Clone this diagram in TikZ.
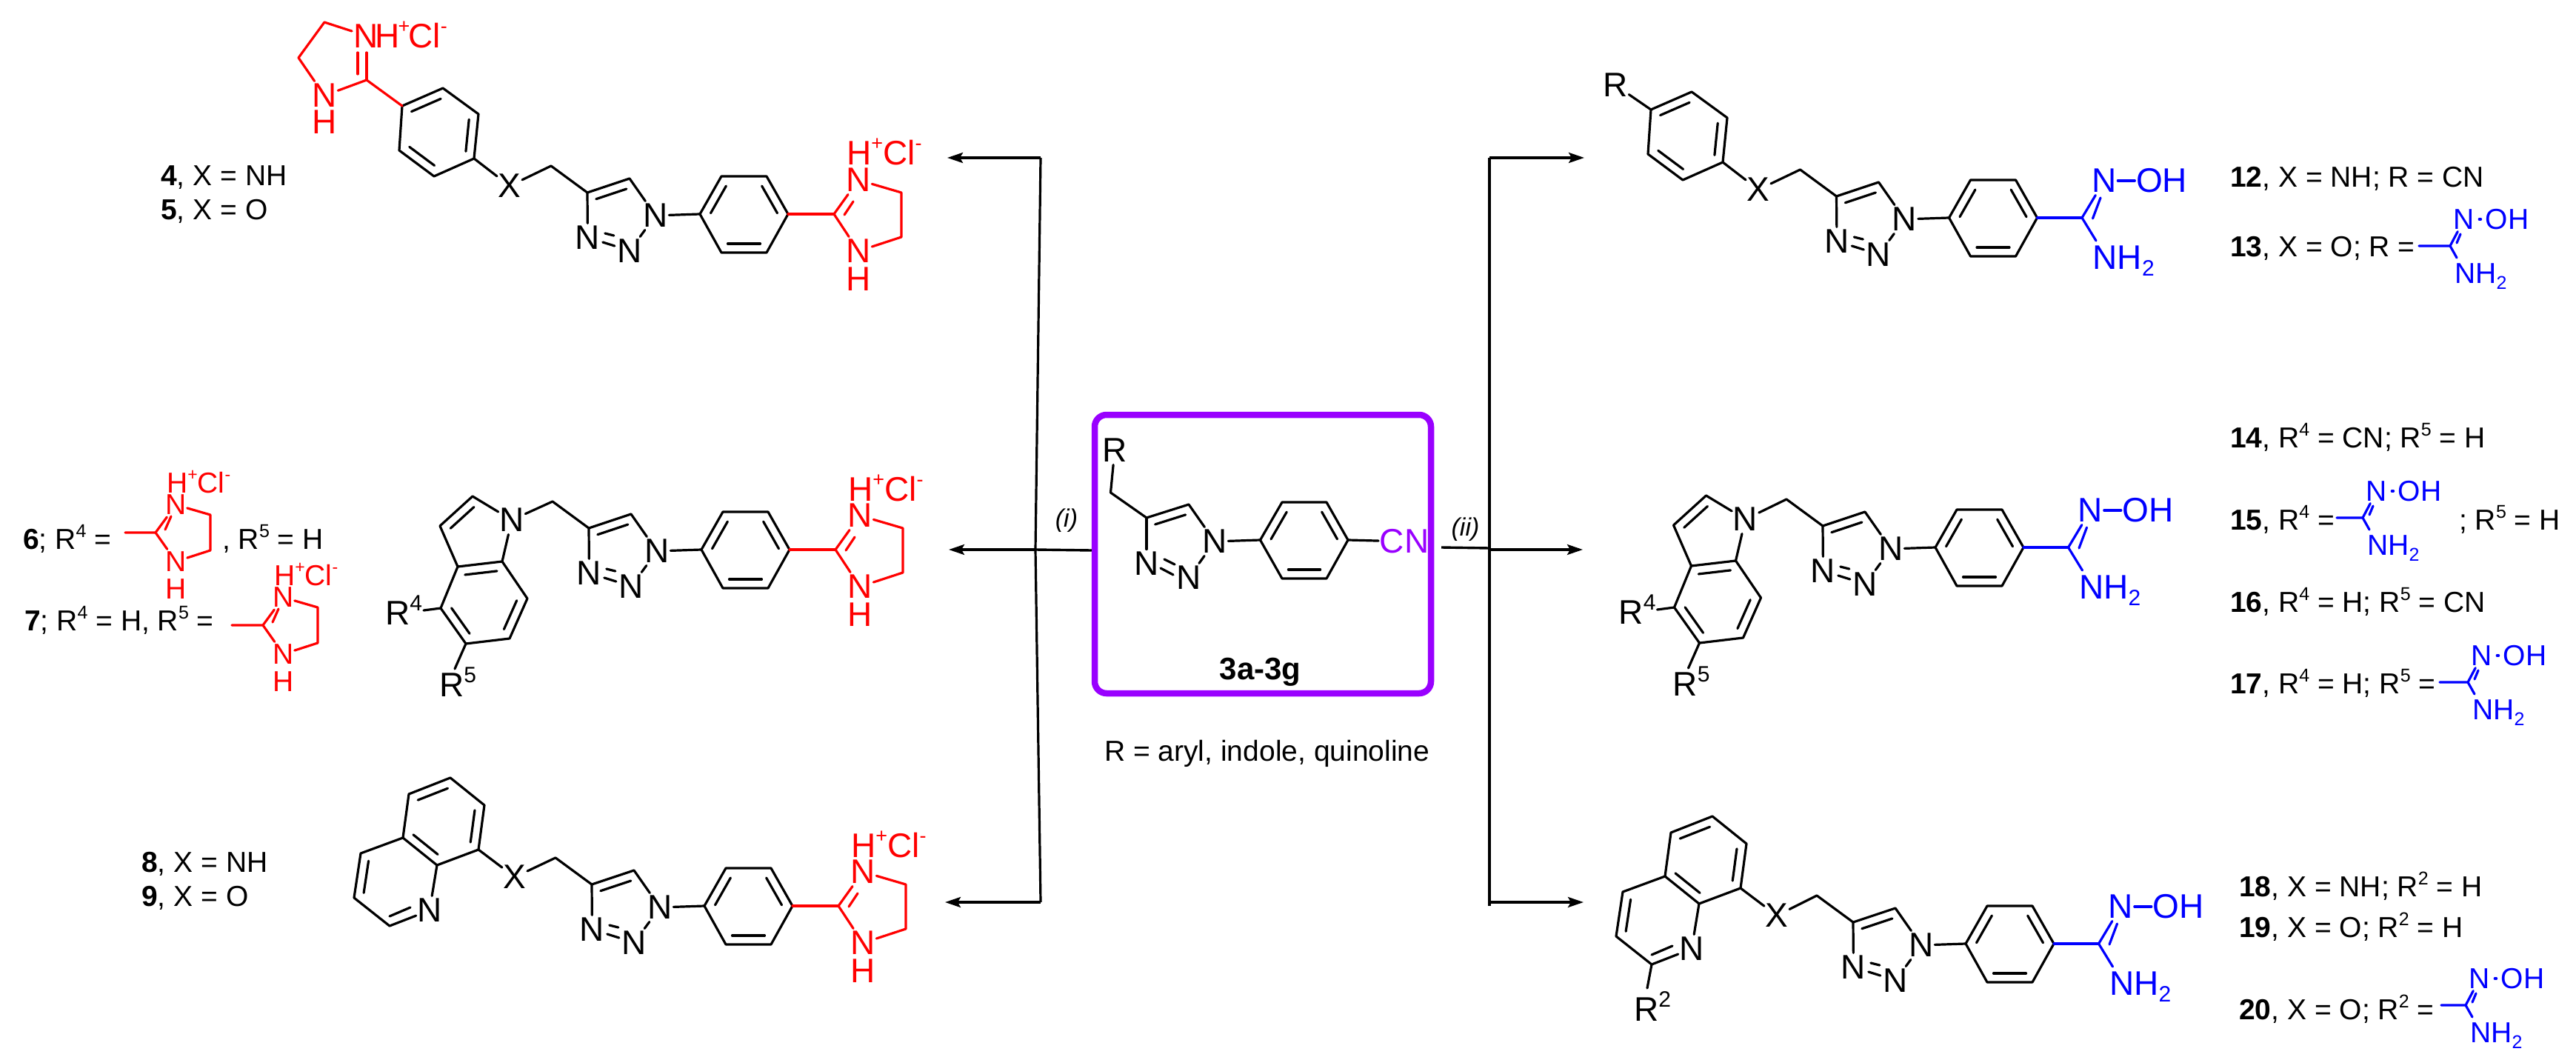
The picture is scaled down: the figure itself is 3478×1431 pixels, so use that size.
\documentclass[tikz,border=0pt]{standalone}
\usepackage{fontspec}
\setmainfont{Liberation Sans}
\usetikzlibrary{calc,arrows.meta}
\definecolor{rd}{HTML}{FF0000}
\definecolor{bl}{HTML}{0000FF}
\definecolor{pu}{HTML}{9900FF}
\newcommand{\fbig}{\fontsize{46}{46}\selectfont}
\newcommand{\fsm}{\fontsize{39}{39}\selectfont}
\newcommand{\up}[3]{\raisebox{#1pt}{\fontsize{#2}{#2}\selectfont #3}}
\newcommand{\Slab}[1]{\up{16}{25}{#1}}
\newcommand{\Rsup}[1]{R\up{19}{30}{#1}}
\newcommand{\HClBig}{H\up{20}{27}{+}Cl\up{20}{27}{-}}
\newcommand{\HClSm}{H\up{17}{23}{+}Cl\up{17}{23}{-}}
\tikzset{
  bond/.style={line width=3.2pt,line cap=round,line join=round},
  atom/.style={font=\fbig,inner xsep=1.5pt,inner ysep=3.5pt},
  atomS/.style={font=\fsm,inner xsep=1pt,inner ysep=3pt},
  lbl/.style={font=\fsm,anchor=base west,inner sep=0pt},
  free/.style={font=\fbig,anchor=base west,inner sep=0pt},
  flow/.style={line width=3.4pt,-{Stealth[length=21pt,width=14pt,inset=4pt]}},
  plain/.style={line width=3.2pt},
}
% inner line of a double bond; #3 = signed offset
\newcommand{\dbl}[4][]{\draw[bond,#1] ($(#2)!.14!(#3)!#4pt!90:(#3)$) -- ($(#3)!.14!(#2)!#4pt!-90:(#2)$);}
% triazole + phenylene: #1 prefix, shift #2,#3
\newcommand{\triaz}[3]{%
\begin{scope}[shift={(#2,#3)}]
 \coordinate (#1ch2) at (744,224);
 \coordinate (#1c4) at (793,260);
 \coordinate (#1c5) at (850,241);
 \node[atom] (#1n1) at (885,291) {N};
 \node[atom] (#1n2) at (850,339) {N};
 \node[atom] (#1n3) at (793.5,321) {N};
 \coordinate (#1a) at (945,289);
 \coordinate (#1b) at (974,238);
 \coordinate (#1c) at (1035,238);
 \coordinate (#1d) at (1064,289);
 \coordinate (#1e) at (1035,341);
 \coordinate (#1f) at (974,341);
 \draw[bond] (#1ch2) -- (#1c4) -- (#1c5) -- (#1n1);
 \draw[bond] (#1c4) -- (#1n3);
 \draw[bond] (#1n1) -- (#1n2);
 \dbl{#1c4}{#1c5}{-12}
 \draw[bond] (#1n3.east) ++(5,-6) -- ++(12,3);
 \draw[bond] (#1n3.east) ++(2,6) -- ++(16,5);
 \draw[bond] (#1n1) -- (#1a);
 \draw[bond] (#1a) -- (#1b) -- (#1c) -- (#1d) -- (#1e) -- (#1f) -- cycle;
 \dbl{#1a}{#1b}{-12}
 \dbl{#1c}{#1d}{-12}
 \dbl{#1e}{#1f}{-12}
\end{scope}}
% red imidazolinium on the phenylene
\newcommand{\imid}[3]{%
\begin{scope}[shift={(#2,#3)},rd]
 \coordinate (#1ic) at (1126,289);
 \node[atom] (#1iu) at (1159,243) {N};
 \node[atom] (#1il) at (1159,339) {N};
 \node[atom] (#1ih) at (1159,377) {H};
 \node[free,text=rd] (#1ihc) at (1143,223) {\HClBig};
 \coordinate (#1i1) at (1217,260);
 \coordinate (#1i2) at (1217,320);
 \draw[bond,rd] (#1d) -- (#1ic);
 \draw[bond,rd] (#1ic) -- (#1iu);
 \draw[bond,rd] (#1ic) -- (#1il);
 \draw[bond,rd] (#1iu) -- (#1i1) -- (#1i2) -- (#1il);
 \draw[bond,rd] (1140,290) -- (1152,272);
\end{scope}}
% blue amidoxime on the phenylene
\newcommand{\amid}[3]{%
\begin{scope}[shift={(#2,#3)},bl]
 \coordinate (#1ac) at (1124.5,289);
 \node[atom] (#1au) at (1154.5,239) {N};
 \node[atom] (#1aoh) at (1232,239) {OH};
 \node[free,text=bl] (#1anh) at (1139,358) {NH\up{-9}{30}{2}};
 \coordinate (#1ae) at (1143.5,320);
 \draw[bond,bl] (#1d) -- (#1ac);
 \draw[bond,bl] (#1ac) -- (#1au);
 \draw[bond,bl] (#1ac) -- (#1ae);
 \draw[bond,bl] (#1au) -- (#1aoh);
 \draw[bond,bl] (1139,290) -- (1149.5,262);
\end{scope}}
% small amidoxime: #1 prefix, centre carbon #2,#3, left stub length #4
\newcommand{\amidS}[4]{%
\begin{scope}[shift={(#2,#3)},bl]
 \coordinate (#1c) at (0,0);
 \coordinate (#1s) at (-#4,0);
 \node[atomS] (#1n) at (19,-36) {N};
 \node[atomS] (#1o) at (77,-36) {OH};
 \node[lbl,text=bl] (#1h) at (6,50) {NH\up{-8}{25}{2}};
 \coordinate (#1e) at (9,16);
 \draw[bond,bl] (#1s) -- (#1c) -- (#1n);
 \draw[bond,bl] (#1c) -- (#1e);
 \draw[bond,bl,shorten >=5pt,shorten <=5pt] (#1n) -- (#1o);
 \draw[bond,bl] (9,-4) -- (14,-16);
\end{scope}}
% small red imidazolinium: #1 prefix, carbon #2,#3, stub length #4
\newcommand{\imidS}[4]{%
\begin{scope}[shift={(#2,#3)},rd]
 \coordinate (#1c) at (0,0);
 \coordinate (#1s) at (-#4,0);
 \node[atomS] (#1n) at (27.5,-37.5) {N};
 \node[atomS] (#1m) at (27.5,39) {N};
 \node[atomS] (#1h) at (27.5,76) {H};
 \node[lbl,text=rd] (#1x) at (15,-54) {\HClSm};
 \coordinate (#1p) at (74,-24);
 \coordinate (#1q) at (74,24);
 \draw[bond,rd] (#1s) -- (#1c) -- (#1n);
 \draw[bond,rd] (#1c) -- (#1m);
 \draw[bond,rd] (#1n) -- (#1p) -- (#1q) -- (#1m);
 \draw[bond,rd] (13,-4) -- (21,-22);
\end{scope}}
% para-disubstituted ring with X
\newcommand{\aryl}[3]{%
\begin{scope}[shift={(#2,#3)}]
 \coordinate (#1r1) at (543,143);
 \coordinate (#1r2) at (598,119);
 \coordinate (#1r3) at (646,154);
 \coordinate (#1r4) at (640,214);
 \coordinate (#1r5) at (586,238);
 \coordinate (#1r6) at (539,203);
 \node[atom] (#1x) at (688,251) {X};
 \draw[bond] (#1r1) -- (#1r2) -- (#1r3) -- (#1r4) -- (#1r5) -- (#1r6) -- cycle;
 \dbl{#1r1}{#1r2}{-12}
 \dbl{#1r3}{#1r4}{-12}
 \dbl{#1r5}{#1r6}{-12}
 \draw[bond] (#1r4) -- (#1x);
\end{scope}}
% indole
\newcommand{\indole}[3]{%
\begin{scope}[shift={(#2,#3)}]
 \node[atom] (#1n) at (691,702) {N};
 \coordinate (#1c2) at (638,670);
 \coordinate (#1c3) at (594,710);
 \coordinate (#1c3a) at (618,765);
 \coordinate (#1c7a) at (678,758);
 \coordinate (#1c7) at (712,808);
 \coordinate (#1c6) at (688,862);
 \coordinate (#1c5) at (629,869);
 \coordinate (#1c4) at (595,821);
 \node[free] (#1r4) at (520,843) {\Rsup{4}};
 \node[free] (#1r5) at (593,940) {\Rsup{5}};
 \coordinate (#1e4) at (572,824);
 \coordinate (#1e5) at (614,903);
 \draw[bond] (#1n) -- (#1c2) -- (#1c3) -- (#1c3a) -- (#1c7a) -- (#1n);
 \draw[bond] (#1c7a) -- (#1c7) -- (#1c6) -- (#1c5) -- (#1c4) -- (#1c3a);
 \draw[bond] (#1c4) -- (#1e4);
 \draw[bond] (#1c5) -- (#1e5);
 \dbl{#1c2}{#1c3}{12}
 \dbl{#1c3a}{#1c7a}{-12}
 \dbl{#1c7}{#1c6}{-12}
 \dbl{#1c5}{#1c4}{-12}
\end{scope}}
% quinoline
\newcommand{\quin}[3]{%
\begin{scope}[shift={(#2,#3)}]
 \coordinate (#1c8) at (646,1147);
 \coordinate (#1c7) at (654,1087);
 \coordinate (#1c6) at (608,1050);
 \coordinate (#1c5) at (552,1072);
 \coordinate (#1c4a) at (544,1131);
 \coordinate (#1c8a) at (590,1168);
 \node[atom] (#1n) at (580,1229) {N};
 \coordinate (#1c2) at (526,1250);
 \coordinate (#1c3) at (478,1212);
 \coordinate (#1c4) at (487,1152);
 \node[atom] (#1x) at (695,1184) {X};
 \draw[bond] (#1c8) -- (#1c7) -- (#1c6) -- (#1c5) -- (#1c4a) -- (#1c8a) -- cycle;
 \draw[bond] (#1c4a) -- (#1c4) -- (#1c3) -- (#1c2) -- (#1n) -- (#1c8a);
 \draw[bond] (#1c8) -- (#1x);
 \dbl{#1c8}{#1c7}{12}
 \dbl{#1c6}{#1c5}{12}
 \dbl{#1c4a}{#1c8a}{12}
 \dbl{#1c4}{#1c3}{12}
 \draw[bond] (#1c2) ++(0,-13) -- ++(28,-12);
\end{scope}}
\begin{document}
\begin{tikzpicture}[x=1pt,y=-1pt]
\useasboundingbox (0,0) rectangle (3478,1431);
\fill[white] (0,0) rectangle (3478,1431);

%% ---------- centre ----------
\node[draw=pu,line width=8.5pt,rounded corners=16pt,minimum width=454pt,minimum height=376pt,inner sep=0pt] (box) at (1705,748) {};
\node[atom] (cR) at (1505,608) {R};
\coordinate (cCH) at (1499.5,665);
\coordinate (cC4) at (1548,699);
\coordinate (cC5) at (1605,681);
\node[atom] (cN1) at (1640,731) {N};
\node[atom] (cN2) at (1605,780) {N};
\node[atom] (cN3) at (1548,761) {N};
\coordinate (cA) at (1701.5,729);
\coordinate (cB) at (1731,678);
\coordinate (cC) at (1791,678);
\coordinate (cD) at (1820,729);
\coordinate (cE) at (1791,781);
\coordinate (cF) at (1731,781);
\node[atom,text=pu] (cCN) at (1896,731) {CN};
\draw[bond] (cR) -- (cCH) -- (cC4) -- (cC5) -- (cN1);
\draw[bond] (cC4) -- (cN3);
\draw[bond] (cN1) -- (cN2);
\dbl{cC4}{cC5}{-12}
\draw[bond] (1572,755) -- (1586,762);
\draw[bond] (1567,767) -- (1584,776);
\draw[bond] (cN1) -- (cA);
\draw[bond] (cA) -- (cB) -- (cC) -- (cD) -- (cE) -- (cF) -- cycle;
\dbl{cA}{cB}{-12}
\dbl{cC}{cD}{-12}
\dbl{cE}{cF}{-12}
\draw[bond] (cD) -- (cCN);
\node[font=\fontsize{42}{42}\selectfont\bfseries,anchor=base,inner sep=0pt] (cName) at (1701.5,917) {3a-3g};
\node[lbl] (cNote) at (1491,1027) {R = aryl, indole, quinoline};

%% ---------- arrows ----------
\coordinate (jL) at (1398,742);
\coordinate (tL) at (1405,213);
\coordinate (bL) at (1405,1218);
\coordinate (aL1) at (1279,213);
\coordinate (aL2) at (1281,742);
\coordinate (aL3) at (1276,1218);
\coordinate (jR) at (2011,742);
\coordinate (tR) at (2011,213);
\coordinate (bR) at (2011,1223);
\coordinate (aR1) at (2139,213);
\coordinate (aR2) at (2137,742);
\coordinate (aR3) at (2138,1218);
\draw[plain,line cap=butt] (tL) -- (jL) -- (bL);
\draw[flow] (tL) -- (aL1);
\draw[flow] (bL) -- (aL3);
\draw[line width=3.4pt] (box.west |- 0,743) -- (jL);
\draw[flow] (jL) -- (aL2);
\draw[plain] (tR) -- (bR);
\draw[flow] (tR) -- (aR1);
\draw[flow] (2011,1218) -- (aR3);
\draw[line width=3.4pt] (1946,739) -- (2011,740);
\draw[flow] (jR) -- (aR2);
\node[font=\fontsize{34}{34}\selectfont\itshape,inner sep=0pt] (ri) at (1440,703) {(i)};
\node[font=\fontsize{34}{34}\selectfont\itshape,inner sep=0pt] (rii) at (1978.5,715) {(ii)};

%% ---------- left column ----------
\aryl{la}{0}{0}
\triaz{ta}{0}{0}
\draw[bond] (lax) -- (tach2);
\imid{ta}{0}{0}
\begin{scope}[rd]
\coordinate (ic) at (495,108);
\coordinate (i1) at (438,30);
\coordinate (i2) at (403,78);
\node[free,text=rd] (iN) at (477,65) {N\hspace{-4pt}H\hspace{-2pt}\up{20}{27}{+}\hspace{-2pt}Cl\up{20}{27}{-}};
\node[atom] (iL) at (438,129) {N};
\node[atom] (iH) at (438,165) {H};
\draw[bond,rd] (lar1) -- (ic) -- (iL);
\draw[bond,rd] (ic) -- (495,71);
\draw[bond,rd] (483,71) -- (483,100);
\draw[bond,rd] (475,42) -- (i1) -- (i2) -- (iL);
\end{scope}
\node[lbl] (t4) at (217,251) {\textbf{4}, X = NH};
\node[lbl] (t5) at (217,297) {\textbf{5}, X = O};

\indole{lb}{0}{0}
\triaz{tb}{2}{453}
\draw[bond] (lbn) -- (tbch2);
\imid{tb}{2}{453}
\node[lbl] (t6) at (31,741) {\textbf{6}; R\Slab{4} =};
\imidS{s6}{210}{719}{41}
\node[lbl] (t6b) at (300,741) {, R\Slab{5} = H};
\node[lbl] (t7) at (33,851) {\textbf{7}; R\Slab{4} = H, R\Slab{5} =};
\imidS{s7}{355}{844}{42}

\quin{lc}{0}{0}
\triaz{tc}{6}{934}
\draw[bond] (lcx) -- (tcch2);
\imid{tc}{6}{934}
\node[lbl] (t8) at (191,1177) {\textbf{8}, X = NH};
\node[lbl] (t9) at (191,1223) {\textbf{9}, X = O};

%% ---------- right column ----------
\aryl{ra}{1686}{5}
\node[atom] (raR) at (2181,115) {R};
\draw[bond] (rar1) -- (raR);
\triaz{ua}{1686.5}{5}
\draw[bond] (rax) -- (uach2);
\amid{ua}{1686.5}{5}
\node[lbl] (t12) at (3011,253) {\textbf{12}, X = NH; R = CN};
\node[lbl] (t13) at (3011,346) {\textbf{13}, X = O; R =};
\amidS{s13}{3308}{332}{42}

\indole{rb}{1665.5}{-1}
\triaz{ub}{1668}{450}
\draw[bond] (rbn) -- (ubch2);
\amid{ub}{1668}{450}
\node[lbl] (t14) at (3011,604) {\textbf{14}, R\Slab{4} = CN; R\Slab{5} = H};
\node[lbl] (t15) at (3011,715) {\textbf{15}, R\Slab{4} =};
\amidS{s15}{3190}{699}{35}
\node[lbl] (t15b) at (3320,715) {; R\Slab{5} = H};
\node[lbl] (t16) at (3011,826) {\textbf{16}, R\Slab{4} = H; R\Slab{5} = CN};
\node[lbl] (t17) at (3011,936) {\textbf{17}, R\Slab{4} = H; R\Slab{5} =};
\amidS{s17}{3332}{921}{38}

\quin{rc}{1704}{52}
\node[free] (rcR) at (2206,1378) {\Rsup{2}};
\coordinate (rcE) at (2224,1334);
\draw[bond] (rcc2) -- (rcE);
\triaz{uc}{1709}{985}
\draw[bond] (rcx) -- (ucch2);
\amid{uc}{1709}{985}
\node[lbl] (t18) at (3023,1210) {\textbf{18}, X = NH; R\Slab{2} = H};
\node[lbl] (t19) at (3023,1265) {\textbf{19}, X = O; R\Slab{2} = H};
\node[lbl] (t20) at (3023,1376) {\textbf{20}, X = O; R\Slab{2} =};
\amidS{s20}{3329}{1357}{33}
\end{tikzpicture}
\end{document}
